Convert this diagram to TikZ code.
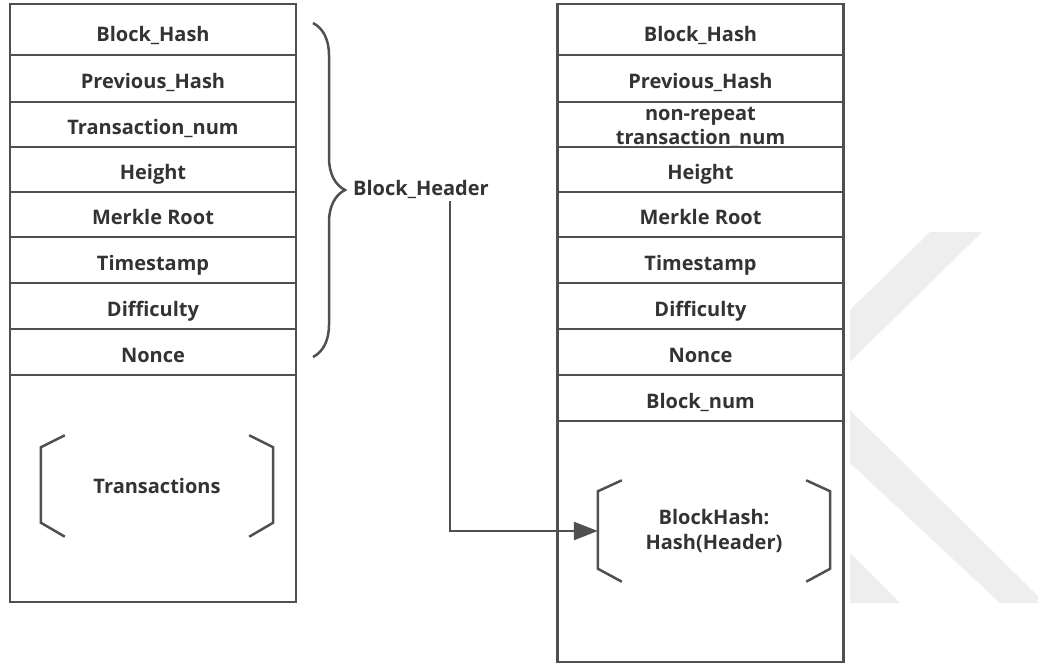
\documentclass[tikz,border=0pt]{standalone}
\usepackage{fontspec}
\setmainfont{Open Sans}
\usetikzlibrary{arrows.meta,decorations.pathreplacing}
\definecolor{linegray}{HTML}{505050}
\definecolor{textgray}{HTML}{333333}
\definecolor{markgray}{HTML}{EEEEEE}
\tikzset{
  cell/.style={draw=linegray,line width=2.5pt,fill=white,minimum width=286pt,inner sep=0pt,text height=22pt,text depth=2pt,text=textgray,font=\fontsize{20}{24}\selectfont\bfseries},
  inner/.style={minimum width=232pt,minimum height=101pt,inner sep=0pt,align=center,text=textgray,font=\fontsize{20}{25}\selectfont\bfseries},
  lbl/.style={inner sep=3pt,align=center,text=textgray,font=\fontsize{20}{24}\selectfont\bfseries},
  brk/.style={draw=linegray,line width=2.5pt},
  flow/.style={draw=linegray,line width=2.5pt,-{Triangle[length=24pt,width=18pt]}}
}
\begin{document}
\begin{tikzpicture}[x=1pt,y=-1pt]
\useasboundingbox (0,0) rectangle (1039,666);
\fill[markgray] (930,232)--(982,232)--(850,362)--(850,310)--cycle;
\fill[markgray] (850,410)--(1038,596)--(1038,603)--(1000,603)--(850,463)--cycle;
\fill[markgray] (850,553)--(900,603)--(850,603)--cycle;

\node[cell,minimum height=51pt,text height=27pt] (lbh) at (153,29.5){Block\_Hash};
\node[cell,minimum height=47pt] (lph) at (153,78.5){Previous\_Hash};
\node[cell,minimum height=45pt] (ltn) at (153,124.5){Transaction\_num};
\node[cell,minimum height=45pt] (lht) at (153,169.5){Height};
\node[cell,minimum height=45pt] (lmr) at (153,214.5){Merkle Root};
\node[cell,minimum height=46pt] (lts) at (153,260){Timestamp};
\node[cell,minimum height=46pt] (ldf) at (153,306){Difficulty};
\node[cell,minimum height=46pt] (lnc) at (153,352){Nonce};
\node[cell,minimum height=227pt] (lbody) at (153,488.5){};
\node[inner] (txs) at (157,486){Transactions};

\node[cell,minimum height=51pt,text height=27pt] (rbh) at (700.5,29.5){Block\_Hash};
\node[cell,minimum height=47pt] (rph) at (700.5,78.5){Previous\_Hash};
\node[cell,minimum height=45pt] (rtn) at (700.5,124.5){};
\node[lbl,inner sep=0pt] (rtntext) at (700.5,127){non-repeat\\transaction\_num};
\node[cell,minimum height=45pt] (rht) at (700.5,169.5){Height};
\node[cell,minimum height=45pt] (rmr) at (700.5,214.5){Merkle Root};
\node[cell,minimum height=46pt] (rts) at (700.5,260){Timestamp};
\node[cell,minimum height=46pt] (rdf) at (700.5,306){Difficulty};
\node[cell,minimum height=46pt] (rnc) at (700.5,352){Nonce};
\node[cell,minimum height=46pt] (rbn) at (700.5,398){Block\_num};
\node[cell,minimum height=241pt] (rbody) at (700.5,541.5){};
\node[inner] (hsh) at (714,531){BlockHash:\\Hash(Header)};

\draw[brk] ([xshift=24pt]txs.north west)--([yshift=-12pt]txs.north west)--([yshift=14pt]txs.south west)--([xshift=24pt]txs.south west);
\draw[brk] ([xshift=-24pt]txs.north east)--([yshift=-12pt]txs.north east)--([yshift=14pt]txs.south east)--([xshift=-24pt]txs.south east);
\draw[brk] ([xshift=24pt]hsh.north west)--([yshift=-11pt]hsh.north west)--([yshift=13pt]hsh.south west)--([xshift=24pt]hsh.south west);
\draw[brk] ([xshift=-24pt]hsh.north east)--([yshift=-11pt]hsh.north east)--([yshift=13pt]hsh.south east)--([xshift=-24pt]hsh.south east);

\draw[brk,decorate,decoration={brace,amplitude=32pt}] (313,23)--(313,357);
\node[lbl,anchor=west] (hdr) at (350,189){Block\_Header};
\draw[flow] ([xshift=29pt]hdr.south) |- (hsh.west);
\end{tikzpicture}
\end{document}
